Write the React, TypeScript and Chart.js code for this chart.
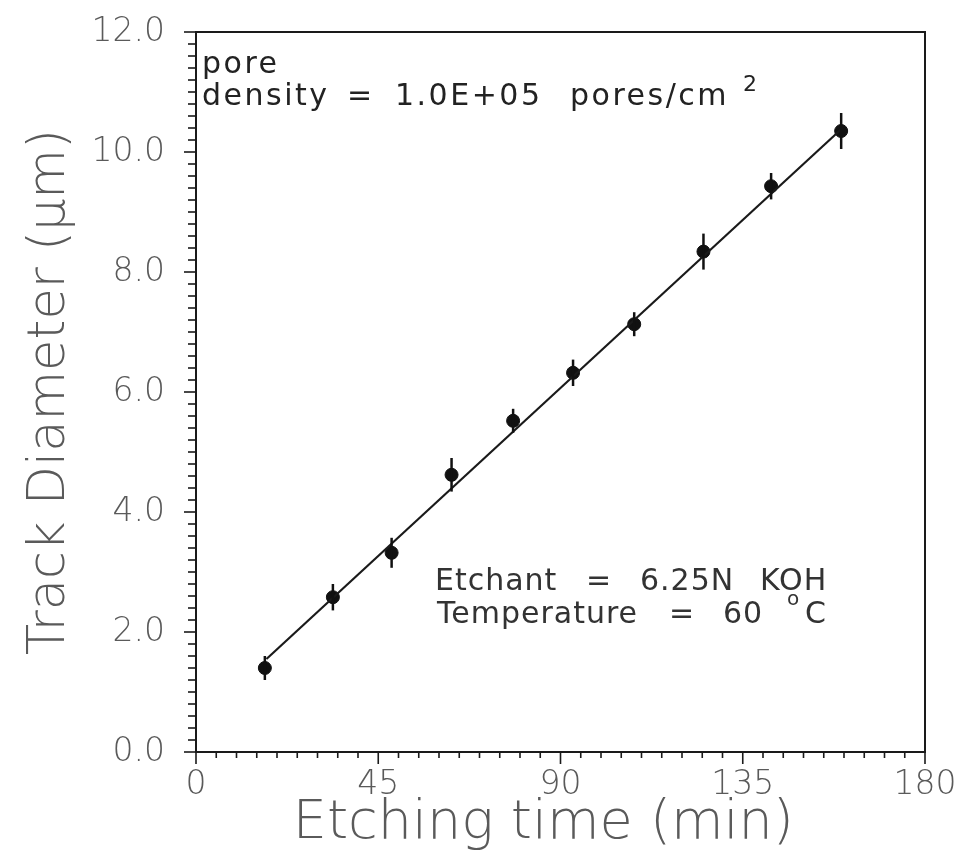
import React, { useEffect, useRef } from "react";
import { Chart, registerables } from "chart.js";

Chart.register(...registerables);

// ---- data ----
const etchTime = [17.0, 33.8, 48.3, 63.1, 78.3, 93.1, 108.2, 125.3, 142.0, 159.3];
const trackDiameter = [1.4, 2.58, 3.32, 4.62, 5.52, 6.32, 7.13, 8.34, 9.43, 10.35];
const diameterError = [0.2, 0.22, 0.25, 0.28, 0.2, 0.22, 0.2, 0.3, 0.22, 0.3];
const fitTime = [17.4, 159.3];
const fitDiameter = [1.55, 10.38];

const xMajorTicks = [0, 45, 90, 135, 180];
const yMajorTicks = [0, 2, 4, 6, 8, 10, 12];
const xMinorStep = 5;
const yMinorStep = 0.2;

const xTitle = "Etching time (min)  ";
const yTitle = "Track Diameter (\u03bcm)";

const AXIS_COLOR = "#1a1a1a";
const LABEL_COLOR = "#5a5a5a";
const LABEL_FONT = "DejaVu Sans";

const ticksPlugin = {
  id: "customTicks",
  afterDraw(chart: any) {
    const { ctx, chartArea } = chart;
    const xs = chart.scales.x;
    const ys = chart.scales.y;
    ctx.save();
    ctx.strokeStyle = AXIS_COLOR;
    ctx.lineWidth = 2;
    ctx.beginPath();
    ctx.moveTo(chartArea.left, chartArea.top);
    ctx.lineTo(chartArea.right, chartArea.top);
    ctx.lineTo(chartArea.right, chartArea.bottom);
    ctx.stroke();
    ctx.lineWidth = 1.6;
    for (let v = xs.min; v <= xs.max + 1e-9; v += xMinorStep) {
      const major = xMajorTicks.some((t) => Math.abs(t - v) < 1e-6);
      const px = xs.getPixelForValue(v);
      ctx.beginPath();
      ctx.moveTo(px, chartArea.bottom);
      ctx.lineTo(px, chartArea.bottom + (major ? 12 : 6));
      ctx.stroke();
    }
    const n = Math.round((ys.max - ys.min) / yMinorStep);
    for (let i = 0; i <= n; i++) {
      const v = ys.min + i * yMinorStep;
      const major = yMajorTicks.some((t) => Math.abs(t - v) < 1e-6);
      const py = ys.getPixelForValue(v);
      ctx.beginPath();
      ctx.moveTo(chartArea.left, py);
      ctx.lineTo(chartArea.left - (major ? 12 : 8), py);
      ctx.stroke();
    }
    ctx.restore();
  },
};

const errorBarPlugin = {
  id: "errorBars",
  afterDatasetsDraw(chart: any) {
    const { ctx } = chart;
    const xs = chart.scales.x;
    const ys = chart.scales.y;
    ctx.save();
    ctx.strokeStyle = "#111";
    ctx.lineWidth = 2.5;
    etchTime.forEach((t, i) => {
      const px = xs.getPixelForValue(t);
      ctx.beginPath();
      ctx.moveTo(px, ys.getPixelForValue(trackDiameter[i] - diameterError[i]));
      ctx.lineTo(px, ys.getPixelForValue(trackDiameter[i] + diameterError[i]));
      ctx.stroke();
    });
    ctx.restore();
  },
};

const annotationPlugin = {
  id: "annotations",
  afterDraw(chart: any) {
    const { ctx } = chart;
    ctx.save();
    ctx.textBaseline = "alphabetic";
    ctx.textAlign = "left";
    ctx.fillStyle = "#222";
    ctx.font = '30px "DejaVu Sans"';
    (ctx as any).letterSpacing = "2.5px";
    ctx.fillText("pore", 202, 73);
    ctx.fillText("density", 202, 105);
    ctx.fillText("=", 347, 105);
    ctx.fillText("1.0E+05", 395, 105);
    ctx.fillText("pores/cm", 570, 105);
    ctx.font = '22px "DejaVu Sans"';
    ctx.fillText("2", 743, 91);

    ctx.fillStyle = "#333";
    ctx.font = '30px "DejaVu Sans"';
    (ctx as any).letterSpacing = "1px";
    ctx.fillText("Etchant", 435, 590);
    ctx.fillText("=", 586, 590);
    ctx.fillText("6.25N", 640, 590);
    ctx.fillText("KOH", 760, 590);
    ctx.fillText("Temperature", 437, 623);
    ctx.fillText("=", 669, 623);
    ctx.fillText("60", 723, 623);
    ctx.fillText("C", 805, 623);
    ctx.font = '20px "DejaVu Sans"';
    ctx.fillText("o", 787, 605);
    ctx.restore();
  },
};

export default function App() {
  const canvasRef = useRef<HTMLCanvasElement | null>(null);

  useEffect(() => {
    if (!canvasRef.current) return;
    const chart = new Chart(canvasRef.current, {
      type: "scatter",
      data: {
        datasets: [
          {
            type: "line",
            label: "fit",
            data: fitTime.map((t, i) => ({ x: t, y: fitDiameter[i] })),
            borderColor: "#1a1a1a",
            borderWidth: 2.2,
            pointRadius: 0,
            fill: false,
          } as any,
          {
            label: "data",
            data: etchTime.map((t, i) => ({ x: t, y: trackDiameter[i] })),
            backgroundColor: "#111",
            borderColor: "#111",
            pointRadius: 6.5,
            pointHoverRadius: 6.5,
          },
        ],
      },
      options: {
        responsive: false,
        animation: false,
        events: [],
        layout: { padding: { left: 0, right: 44, top: 32, bottom: 0 } },
        plugins: {
          legend: { display: false },
          tooltip: { enabled: false },
        },
        scales: {
          x: {
            type: "linear",
            min: 0,
            max: 180,
            afterFit: (s: any) => {
              s.height = 110;
              s.paddingLeft = 0;
              s.paddingRight = 0;
            },
            afterBuildTicks: (s: any) => {
              s.ticks = xMajorTicks.map((v) => ({ value: v }));
            },
            grid: { display: false },
            border: { display: true, color: AXIS_COLOR, width: 2 },
            ticks: {
              padding: 6,
              color: LABEL_COLOR,
              font: { family: LABEL_FONT, size: 33, weight: "200" },
              maxRotation: 0,
              autoSkip: false,
              callback: (v: any) => String(v),
            },
            title: {
              display: true,
              text: xTitle,
              color: LABEL_COLOR,
              font: { family: LABEL_FONT, size: 54, weight: "200" },
              padding: { top: 0, bottom: 6 },
            },
          },
          y: {
            type: "linear",
            min: 0,
            max: 12,
            afterFit: (s: any) => {
              s.width = 196;
              s.paddingTop = 0;
              s.paddingBottom = 0;
            },
            afterBuildTicks: (s: any) => {
              s.ticks = yMajorTicks.map((v) => ({ value: v }));
            },
            grid: { display: false },
            border: { display: true, color: AXIS_COLOR, width: 2 },
            ticks: {
              padding: 23,
              color: LABEL_COLOR,
              font: { family: LABEL_FONT, size: 33, weight: "200" },
              autoSkip: false,
              callback: (v: any) => Number(v).toFixed(1),
            },
            title: {
              display: true,
              text: yTitle,
              color: LABEL_COLOR,
              font: { family: LABEL_FONT, size: 51, weight: "200" },
              padding: { top: 20, bottom: 0 },
            },
          },
        },
      },
      plugins: [ticksPlugin, errorBarPlugin, annotationPlugin],
    });
    return () => chart.destroy();
  }, []);

  return (
    <div style={{ position: "absolute", left: 0, top: 0, width: 969, height: 862, background: "#fff" }}>
      <canvas ref={canvasRef} width={969} height={862} />
    </div>
  );
}
